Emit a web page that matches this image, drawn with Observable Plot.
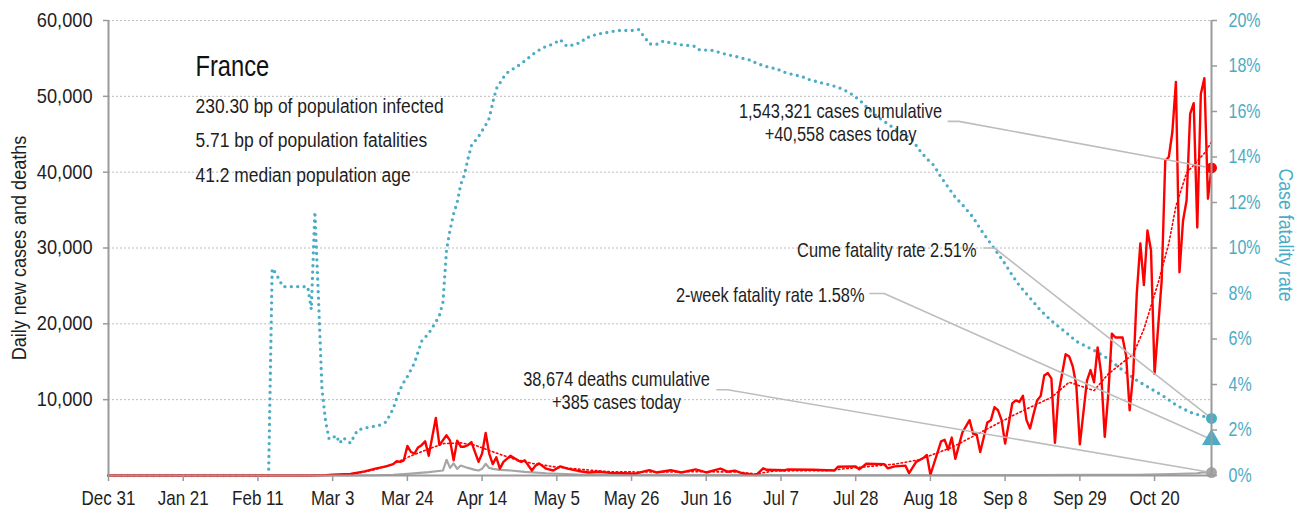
<!DOCTYPE html>
<html><head><meta charset="utf-8">
<script src="https://cdn.jsdelivr.net/npm/d3@7"></script>
<script src="https://cdn.jsdelivr.net/npm/@observablehq/plot@0.6"></script>
<style>html,body{margin:0;padding:0;background:#fff}</style>
</head><body><div id="chart"></div>
<script>
// ---------- data ----------
const xTickDates = ["2019-12-31","2020-01-21","2020-02-11","2020-03-03","2020-03-24","2020-04-14","2020-05-05","2020-05-26","2020-06-16","2020-07-07","2020-07-28","2020-08-18","2020-09-08","2020-09-29","2020-10-20"];
const leftTicks = [10000, 20000, 30000, 40000, 50000, 60000];
const cfrTicks = [0, 2, 4, 6, 8, 10, 12, 14, 16, 18, 20]; // percent

const dailyCases = [
 ["2019-12-31",0],["2020-02-25",0],["2020-03-01",50],["2020-03-03",100],["2020-03-08",200],["2020-03-12",550],["2020-03-15",900],["2020-03-18",1200],["2020-03-20",1500],["2020-03-21",1900],["2020-03-22",1800],["2020-03-23",2000],["2020-03-24",3900],["2020-03-25",3100],["2020-03-26",2900],["2020-03-27",3700],["2020-03-28",4000],["2020-03-29",4500],["2020-03-30",2600],["2020-04-01",7600],["2020-04-02",4000],["2020-04-04",5300],["2020-04-05",4600],["2020-04-06",2000],["2020-04-07",4600],["2020-04-08",3800],["2020-04-09",3800],["2020-04-10",4000],["2020-04-11",4400],["2020-04-13",1800],["2020-04-14",2900],["2020-04-15",5600],["2020-04-16",2900],["2020-04-17",1500],["2020-04-18",2400],["2020-04-19",900],["2020-04-20",1800],["2020-04-22",2600],["2020-04-24",2000],["2020-04-25",1800],["2020-04-26",2000],["2020-04-28",660],["2020-04-29",1300],["2020-04-30",1600],["2020-05-02",900],["2020-05-04",660],["2020-05-06",1200],["2020-05-08",900],["2020-05-11",600],["2020-05-14",400],["2020-05-17",500],["2020-05-20",350],["2020-05-24",300],["2020-05-27",250],["2020-05-31",700],["2020-06-02",400],["2020-06-06",700],["2020-06-09",400],["2020-06-13",800],["2020-06-16",400],["2020-06-20",900],["2020-06-22",500],["2020-06-24",650],["2020-06-26",300],["2020-06-30",50],["2020-07-02",950],["2020-07-03",750],["2020-07-08",700],["2020-07-09",800],["2020-07-16",750],["2020-07-22",650],["2020-07-23",1150],["2020-07-28",1200],["2020-07-29",800],["2020-07-31",1550],["2020-08-05",1500],["2020-08-06",950],["2020-08-08",1200],["2020-08-11",1300],["2020-08-12",300],["2020-08-14",1800],["2020-08-16",2300],["2020-08-17",2700],["2020-08-18",100],["2020-08-21",4500],["2020-08-22",4700],["2020-08-23",3400],["2020-08-24",5000],["2020-08-25",2200],["2020-08-27",5700],["2020-08-29",7300],["2020-08-30",5500],["2020-08-31",5400],["2020-09-01",3100],["2020-09-03",7000],["2020-09-04",7300],["2020-09-05",9000],["2020-09-06",8600],["2020-09-07",7300],["2020-09-08",4200],["2020-09-09",6800],["2020-09-10",9500],["2020-09-11",9900],["2020-09-12",9700],["2020-09-13",10500],["2020-09-14",7300],["2020-09-15",6200],["2020-09-16",8100],["2020-09-17",9900],["2020-09-18",10500],["2020-09-19",13200],["2020-09-20",13500],["2020-09-21",12800],["2020-09-22",4300],["2020-09-23",10800],["2020-09-25",16000],["2020-09-26",15700],["2020-09-27",14400],["2020-09-28",11900],["2020-09-29",4100],["2020-10-01",12500],["2020-10-02",13900],["2020-10-03",12300],["2020-10-04",16900],["2020-10-05",13400],["2020-10-06",5100],["2020-10-07",10800],["2020-10-08",18700],["2020-10-09",18200],["2020-10-11",18200],["2020-10-12",15800],["2020-10-13",8600],["2020-10-14",13400],["2020-10-15",24000],["2020-10-16",30600],["2020-10-17",25100],["2020-10-18",32300],["2020-10-19",29700],["2020-10-20",13400],["2020-10-22",25700],["2020-10-23",41500],["2020-10-24",42000],["2020-10-25",45300],["2020-10-26",51900],["2020-10-27",26800],["2020-10-28",33600],["2020-10-29",36300],["2020-10-30",47700],["2020-10-31",49100],["2020-11-01",32700],["2020-11-02",50300],["2020-11-03",52400],["2020-11-04",36500],["2020-11-05",40558]
];

const caseTrend = [
 ["2019-12-31",0],["2020-02-25",0],["2020-03-05",100],["2020-03-10",300],["2020-03-15",800],["2020-03-20",1500],["2020-03-25",2600],["2020-03-30",3500],["2020-04-03",4200],["2020-04-08",4300],["2020-04-12",4000],["2020-04-16",3300],["2020-04-22",2300],["2020-04-28",1600],["2020-05-05",1100],["2020-05-12",800],["2020-05-20",500],["2020-06-01",450],["2020-06-15",500],["2020-06-25",450],["2020-06-30",200],["2020-07-05",600],["2020-07-20",650],["2020-07-25",900],["2020-08-01",1200],["2020-08-08",1500],["2020-08-15",2100],["2020-08-20",3000],["2020-08-24",3700],["2020-09-02",5900],["2020-09-11",8100],["2020-09-21",10300],["2020-09-26",12300],["2020-10-03",11200],["2020-10-07",13400],["2020-10-14",16000],["2020-10-17",19300],["2020-10-21",25400],["2020-10-24",30600],["2020-10-26",35500],["2020-10-29",39900],["2020-11-03",42500],["2020-11-05",44000]
];

const dailyDeaths = [
 ["2019-12-31",0],["2020-02-14",0],["2020-03-08",10],["2020-03-15",30],["2020-03-20",100],["2020-03-25",250],["2020-03-30",450],["2020-04-03",660],["2020-04-04",2070],["2020-04-05",1000],["2020-04-06",1600],["2020-04-07",880],["2020-04-08",1320],["2020-04-10",1000],["2020-04-12",750],["2020-04-13",660],["2020-04-14",880],["2020-04-15",1540],["2020-04-16",1000],["2020-04-17",880],["2020-04-19",750],["2020-04-22",660],["2020-04-26",480],["2020-05-02",300],["2020-05-11",130],["2020-05-25",80],["2020-06-15",50],["2020-07-15",30],["2020-08-15",30],["2020-09-15",60],["2020-10-01",80],["2020-10-15",100],["2020-10-25",200],["2020-11-01",300],["2020-11-03",450],["2020-11-04",350],["2020-11-05",385]
];

const caseFatalityRate = [
 ["2019-12-31",0],["2020-02-14",0],["2020-02-15",9.1],["2020-02-16",8.9],["2020-02-18",8.3],["2020-02-25",8.3],["2020-02-26",7.3],["2020-02-27",11.6],["2020-02-28",7.85],["2020-02-29",3.8],["2020-03-01",2.4],["2020-03-02",1.6],["2020-03-03",1.65],["2020-03-04",1.76],["2020-03-05",1.42],["2020-03-06",1.66],["2020-03-08",1.42],["2020-03-09",1.72],["2020-03-10",2.0],["2020-03-13",2.12],["2020-03-16",2.2],["2020-03-18",2.35],["2020-03-20",2.93],["2020-03-21",3.4],["2020-03-22",3.8],["2020-03-23",4.1],["2020-03-24",4.35],["2020-03-26",4.95],["2020-03-28",5.9],["2020-03-30",6.25],["2020-04-01",6.75],["2020-04-02",7.03],["2020-04-03",7.62],["2020-04-04",9.9],["2020-04-05",10.8],["2020-04-06",11.5],["2020-04-07",12.0],["2020-04-08",12.8],["2020-04-09",13.2],["2020-04-10",13.9],["2020-04-11",14.5],["2020-04-13",14.9],["2020-04-14",15.15],["2020-04-15",15.4],["2020-04-16",15.7],["2020-04-17",16.4],["2020-04-18",17.0],["2020-04-19",17.25],["2020-04-20",17.5],["2020-04-21",17.7],["2020-04-23",17.9],["2020-04-25",18.1],["2020-04-27",18.35],["2020-04-29",18.6],["2020-05-01",18.8],["2020-05-04",18.97],["2020-05-06",19.16],["2020-05-07",18.97],["2020-05-08",18.86],["2020-05-10",18.95],["2020-05-12",19.05],["2020-05-13",19.24],["2020-05-15",19.3],["2020-05-16",19.4],["2020-05-18",19.44],["2020-05-20",19.5],["2020-05-22",19.56],["2020-05-26",19.56],["2020-05-28",19.6],["2020-05-29",19.4],["2020-05-30",19.2],["2020-05-31",18.97],["2020-06-02",18.95],["2020-06-04",19.1],["2020-06-05",19.05],["2020-06-09",18.93],["2020-06-11",18.9],["2020-06-13",18.86],["2020-06-14",18.72],["2020-06-18",18.68],["2020-06-20",18.58],["2020-06-22",18.5],["2020-06-24",18.43],["2020-06-25",18.39],["2020-06-27",18.3],["2020-06-29",18.24],["2020-06-30",18.12],["2020-07-02",18.02],["2020-07-04",17.92],["2020-07-06",17.88],["2020-07-07",17.77],["2020-07-09",17.68],["2020-07-11",17.6],["2020-07-13",17.54],["2020-07-14",17.44],["2020-07-16",17.36],["2020-07-18",17.27],["2020-07-20",17.2],["2020-07-23",17.07],["2020-07-26",16.85],["2020-07-28",16.63],["2020-07-30",16.37],["2020-08-01",16.04],["2020-08-03",15.78],["2020-08-06",15.46],["2020-08-08",15.24],["2020-08-11",14.95],["2020-08-13",14.73],["2020-08-15",14.29],["2020-08-17",13.92],["2020-08-19",13.63],["2020-08-21",13.11],["2020-08-23",12.67],["2020-08-25",12.23],["2020-08-27",11.9],["2020-08-30",11.35],["2020-09-01",10.84],["2020-09-03",10.4],["2020-09-06",9.75],["2020-09-08",9.3],["2020-09-10",8.8],["2020-09-12",8.35],["2020-09-15",7.8],["2020-09-18",7.25],["2020-09-21",6.8],["2020-09-25",6.3],["2020-09-28",5.9],["2020-10-03",5.5],["2020-10-07",5.13],["2020-10-10",4.75],["2020-10-15",4.18],["2020-10-19",3.81],["2020-10-23",3.44],["2020-10-26",3.1],["2020-10-30",2.78],["2020-11-03",2.59],["2020-11-05",2.51]
];

const lastDate = "2020-11-05";
const casesToday = 40558, deathsToday = 385, cumeRate = 2.51, twoWeekRate = 1.58;
const titleText = "France";
const statLines = ["230.30 bp of population infected", "5.71 bp of population fatalities", "41.2 median population age"];
const casesNote = ["1,543,321 cases cumulative", "+40,558 cases today"];
const deathsNote = ["38,674 deaths cumulative", "+385 cases today"];
const cumeNote = "Cume fatality rate 2.51%";
const twoWeekNote = "2-week fatality rate 1.58%";
const yTitle = "Daily new cases and deaths";
const y2Title = "Case fatality rate";

// ---------- build ----------
const FONT = '"Liberation Sans", Arial, sans-serif';
const PCT = 3000; // 1 percentage point on the right axis equals 3,000 on the left axis
const parse = d3.utcParse("%Y-%m-%d");
const rows = arr => arr.map(([d, v]) => ({date: parse(d), value: v}));
const cfrRows = caseFatalityRate.map(([d, v]) => ({date: parse(d), value: v * PCT}));
const end = parse(lastDate);

const leaders = [
  {id: "cases", pts: [["2020-08-23", 46700], ["2020-08-26", 46700], [lastDate, casesToday]]},
  {id: "cume", pts: [["2020-09-02", 10 * PCT], ["2020-09-05", 10 * PCT], [lastDate, cumeRate * PCT]]},
  {id: "two", pts: [["2020-08-01", 8 * PCT], ["2020-08-05", 8 * PCT], [lastDate, twoWeekRate * PCT]]},
  {id: "deaths", pts: [["2020-06-19", 11300], ["2020-06-22", 11300], [lastDate, deathsToday]]}
].flatMap(l => l.pts.map(([d, v]) => ({id: l.id, date: parse(d), value: v})));

const RED = "#ff0000", GRAY = "#a6a6a6", BLUE = "#4bacc6", AXIS = "#9a9a9a", INK = "#1e1e1e";
const note = (txt, dx, dy, anchor, size = 20.5) =>
  Plot.text([txt], {frameAnchor: "top-left", dx, dy, textAnchor: anchor, lineAnchor: "bottom", fontSize: size, fill: INK});

const chart = Plot.plot({
  width: 1307, height: 518,
  marginLeft: 108, marginRight: 96, marginTop: 20, marginBottom: 43,
  style: {fontFamily: FONT, fontSize: "20px", color: INK, background: "#fff", overflow: "visible"},
  x: {type: "utc", domain: [parse("2019-12-31"), end]},
  y: {domain: [0, 60000]},
  marks: [
    Plot.gridY(leftTicks, {stroke: "#bcbcbc", strokeOpacity: 1, strokeWidth: 1, strokeDasharray: "2,2"}),
    Plot.line(cfrRows, {x: "date", y: "value", stroke: BLUE, strokeWidth: 3.3, strokeLinecap: "round", strokeDasharray: "0,6.4"}),
    Plot.line(rows(dailyDeaths), {x: "date", y: "value", stroke: GRAY, strokeWidth: 2.2}),
    Plot.line(rows(caseTrend), {x: "date", y: "value", stroke: RED, strokeWidth: 1.6, strokeDasharray: "1.6,2.6"}),
    Plot.line(rows(dailyCases), {x: "date", y: "value", stroke: RED, strokeWidth: 2.4, strokeLinejoin: "round"}),
    Plot.line(leaders, {x: "date", y: "value", z: "id", stroke: "#bdbdbd", strokeWidth: 1.6}),
    Plot.dot([{date: end, value: casesToday}], {x: "date", y: "value", r: 5.5, fill: RED}),
    Plot.dot([{date: end, value: cumeRate * PCT}], {x: "date", y: "value", r: 5.5, fill: BLUE}),
    Plot.dot([{date: end, value: twoWeekRate * PCT}], {x: "date", y: "value", r: 7, symbol: "triangle", fill: BLUE}),
    Plot.dot([{date: end, value: deathsToday}], {x: "date", y: "value", r: 5.5, fill: GRAY}),
    Plot.ruleY([0], {stroke: AXIS, strokeWidth: 2}),
    Plot.ruleX([parse("2019-12-31"), end], {stroke: AXIS, strokeWidth: 2}),
    Plot.axisX(xTickDates.map(parse), {tickFormat: d3.utcFormat("%b %-d"), tickSize: 6, tickPadding: 9, stroke: AXIS, strokeWidth: 1.5, label: null, fontSize: 20}),
    Plot.axisY(leftTicks, {anchor: "left", tickFormat: d3.format(","), tickSize: 5, tickPadding: 11, stroke: AXIS, strokeWidth: 1.5, label: null, fontSize: 20}),
    Plot.axisY(cfrTicks.map(p => p * PCT), {anchor: "right", tickFormat: v => Math.round(v / PCT) + "%", tickSize: 5, tickPadding: 12, stroke: AXIS, strokeWidth: 1.5, fill: BLUE, label: null, fontSize: 20}),
    Plot.text([yTitle], {frameAnchor: "left", dx: -89, rotate: -90, textAnchor: "middle", lineAnchor: "middle", fontSize: 20.5, fill: INK}),
    Plot.text([y2Title], {frameAnchor: "right", dx: 74, dy: -13, rotate: 90, textAnchor: "middle", lineAnchor: "middle", fontSize: 21, fill: BLUE}),
    Plot.text([titleText], {frameAnchor: "top-left", dx: 87, dy: 55, textAnchor: "start", lineAnchor: "bottom", fontSize: 30, fill: "#111"}),
    ...statLines.map((s, i) => note(s, 87, 92 + i * 34.8, "start", 21)),
    note(casesNote[0], 732, 97, "middle"),
    note(casesNote[1], 732, 120, "middle"),
    note(cumeNote, 868, 236, "end"),
    note(twoWeekNote, 756, 281, "end"),
    note(deathsNote[0], 508, 365, "middle"),
    note(deathsNote[1], 508, 388, "middle")
  ]
});
document.getElementById("chart").append(chart);

// condensed look: squeeze each real text element horizontally about its anchor
const factor = s => {
  if (s === titleText) return 0.79;
  if (s === yTitle) return 0.88;
  if (s === y2Title) return 0.845;
  if (statLines.includes(s)) return 0.83;
  if (/^[A-Z][a-z]{2} \d+$/.test(s)) return 0.85;
  if (/^\d+%$/.test(s)) return 0.80;
  if (/^[\d,]+$/.test(s)) return 0.91;
  return 0.80;
};
chart.querySelectorAll("text").forEach(t => {
  const k = factor(t.textContent);
  const tr = t.getAttribute("transform");
  if (tr) {
    t.setAttribute("transform", tr + ` scale(${k},1)`);
  } else {
    const x = +(t.getAttribute("x") || 0), y = +(t.getAttribute("y") || 0);
    t.setAttribute("x", 0); t.setAttribute("y", 0);
    t.setAttribute("transform", `translate(${x},${y}) scale(${k},1)`);
  }
});
</script>
</body></html>
